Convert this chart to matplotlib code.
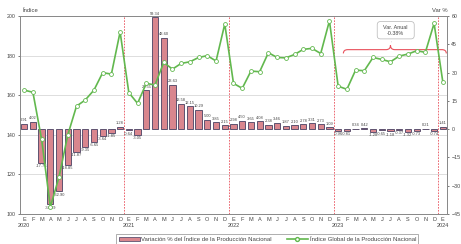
import numpy as np
import matplotlib
matplotlib.use("Agg")
import matplotlib.pyplot as plt
from matplotlib.path import Path
from matplotlib.patches import PathPatch, Patch
from matplotlib.lines import Line2D

plt.rcParams['font.family'] = ['Liberation Sans', 'DejaVu Sans']

months = ['E', 'F', 'M', 'A', 'M', 'J', 'J', 'A', 'S', 'O', 'N', 'D']
years = ['2020', '2021', '2022', '2023', '2024']

# Índice Global de la Producción Nacional (eje izquierdo)
indice = [162.6, 161.5, 137.7, 103.5, 118.8, 140.0, 154.5, 157.6, 162.6, 171.4, 170.7, 192.0,
          161.3, 155.9, 166.0, 165.2, 176.6, 173.2, 176.1, 176.9, 179.1, 180.0, 177.3, 196.0,
          166.0, 163.5, 172.2, 171.9, 181.5, 179.1, 178.9, 180.6, 183.2, 183.7, 181.1, 197.6,
          164.6, 163.0, 172.7, 172.4, 179.1, 178.1, 176.9, 179.8, 180.8, 182.5, 181.7, 196.3,
          166.8]

# Variación % (eje derecho)
variacion = [2.91, 4.02, -17.76, -39.89, -32.90, -18.85, -11.87, -9.35, -6.65, -3.64, -1.85, 1.28,
             -0.64, -3.05, 20.55, 59.34, 48.60, 23.63, 13.58, 12.15, 10.29, 5.00, 3.85, 2.15,
             2.98, 4.50, 3.65, 4.08, 2.38, 3.46, 1.87, 2.10, 2.78, 3.31, 2.73, 1.09,
             -0.96, -0.81, 0.34, 0.42, -1.28, -0.65, -1.18, -0.37, -1.32, -0.73, 0.21, -0.74,
             1.41]

n = len(indice)
x = np.arange(n)
labels = []
for i in range(n):
    m = months[i % 12]
    if i % 12 == 0:
        m = m + '\n' + years[i // 12]
    labels.append(m)

bar_col = '#d9868e'
bar_edge = '#5e5270'
line_col = '#62b84e'
red = '#e8505b'
grey = '#444444'

fig = plt.figure(figsize=(4.61, 2.44), dpi=100)
ax = fig.add_axes([0.043, 0.123, 0.927, 0.811])   # índice, izquierda
ax2 = ax.twinx()                                    # variación, derecha
ax.set_zorder(ax2.get_zorder() + 1)
ax.patch.set_visible(False)

ax.set_xlim(-0.5, n - 0.5)
ax.set_ylim(100, 200)
ax2.set_ylim(-45, 60)
ax.set_yticks([100, 120, 140, 160, 180, 200])
ax2.set_yticks([-45, -30, -15, 0, 15, 30, 45, 60])

# rejilla detras de las barras
for yv in [120, 140, 160, 180]:
    ax2.plot([-0.5, n - 0.5], [yv, yv], transform=ax.transData,
             color='#d8d8d8', lw=0.6, zorder=0)

bars = ax2.bar(x, variacion, width=0.72, color=bar_col, edgecolor=bar_edge,
               lw=0.7, zorder=2)
ax2.bar_label(bars, labels=['%.2f' % v for v in variacion], padding=1,
              fontsize=2.9, color=grey)

for b in [11.5, 23.5, 35.5, 47.5]:
    ax2.axvline(b, color=red, lw=0.6, ls=(0, (2, 1.5)), zorder=1)

ax.plot(x, indice, color=line_col, lw=1.2, marker='o', ms=2.8,
        mfc='white', mec=line_col, mew=0.6, zorder=5)

ax.set_xticks(x)
ax.set_xticklabels(labels)
ax.tick_params(axis='x', length=0, labelsize=4, colors=grey, pad=2)
ax.tick_params(axis='y', length=1.5, labelsize=3.8, colors=grey, pad=1.5, width=0.5)
ax2.tick_params(axis='y', length=1.5, labelsize=3.8, colors=grey, pad=1.5, width=0.5)
for a in (ax, ax2):
    for s in a.spines.values():
        s.set_color('#8a8a8a')
        s.set_linewidth(0.7)

fig.text(0.049, 0.955, 'Índice', fontsize=4.2, color=grey, ha='left', va='center')
fig.text(0.955, 0.958, 'Var %', fontsize=4.2, color=grey, ha='center', va='center')

# llave y nota de variación anual
x0, x1, xm = 36.6, 48.4, 42.0
yb, yl, yt = 40.2, 42.2, 44.6
verts = [(x0, yb), (x0, yl), (x0 + 0.5, yl), (xm - 0.5, yl), (xm, yl), (xm, yt),
         (xm, yl), (xm + 0.5, yl), (x1 - 0.5, yl), (x1, yl), (x1, yb)]
codes = [Path.MOVETO, Path.CURVE3, Path.CURVE3, Path.LINETO, Path.CURVE3, Path.CURVE3,
         Path.CURVE3, Path.CURVE3, Path.LINETO, Path.CURVE3, Path.CURVE3]
ax2.add_patch(PathPatch(Path(verts, codes), fc='none', ec=red, lw=0.8, zorder=6))
ax2.annotate('  Var. Anual  \n-0.38%', xy=(xm, yt + 0.3), xytext=(42.6, 52.5),
             ha='center', va='center', fontsize=3.9, color=grey,
             bbox=dict(boxstyle='round,pad=0.6', fc='white', ec='#b5b5b5', lw=0.5),
             arrowprops=dict(arrowstyle='-', color='#b5b5b5', lw=0.5), zorder=7)

handles = [Patch(fc=bar_col, ec=bar_edge, lw=0.6),
           Line2D([], [], color=line_col, lw=1.2, marker='o', ms=2.8, mfc='white', mec=line_col)]
leg = fig.legend(handles, ['Variación % del Índice de la Producción Nacional',
                           'Índice Global de la Producción Nacional'],
                 loc='upper center', bbox_to_anchor=(0.58, 0.052), ncol=2,
                 fontsize=4.3, frameon=True, fancybox=False, edgecolor='#8a8a8a',
                 handlelength=3.5, columnspacing=2.5, borderpad=0.4, handleheight=0.8,
                 handletextpad=0.3)
leg.get_frame().set_linewidth(0.6)
for t in leg.get_texts():
    t.set_color(grey)

fig.savefig('out.png', dpi=100)
